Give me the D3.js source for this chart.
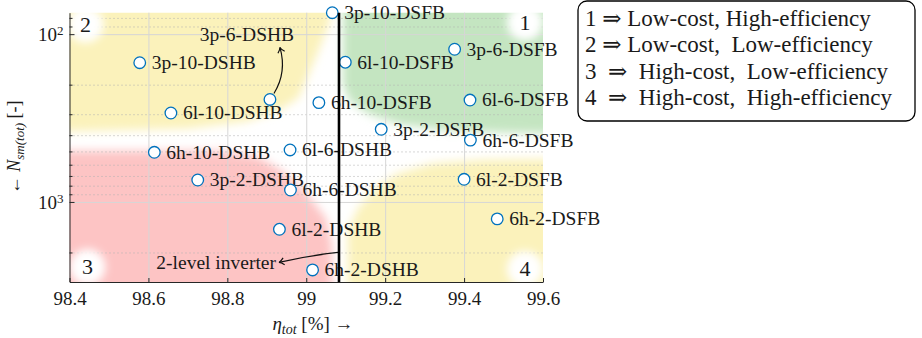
<!DOCTYPE html>
<html>
<head>
<meta charset="utf-8">
<script src="https://cdn.jsdelivr.net/npm/d3@7"></script>
<style>
body { margin: 0; background: #fff; }
text { font-family: "Liberation Serif", "DejaVu Serif", serif; fill: #1a1a1a; }
</style>
</head>
<body>
<svg id="chart" width="922" height="338"></svg>
<script>
/* ---- data ---- */
const designs = ["3p-10-DSFB", "3p-6-DSFB", "6l-10-DSFB", "3p-10-DSHB", "3p-6-DSHB", "6l-6-DSFB",
    "6h-10-DSFB", "6l-10-DSHB", "3p-2-DSFB", "6h-6-DSFB", "6l-6-DSHB", "6h-10-DSHB",
    "6l-2-DSFB", "3p-2-DSHB", "6h-6-DSHB", "6h-2-DSFB", "6l-2-DSHB", "6h-2-DSHB"];
const etaTot = [99.066, 99.376, 99.099, 98.578, 98.908, 99.415,
    99.032, 98.657, 99.190, 99.416, 98.959, 98.615,
    99.400, 98.725, 98.960, 99.484, 98.932, 99.016];
const nSm = [74.5, 123, 147, 148, 245, 247,
    256, 295, 369, 428, 490, 506,
    733, 740, 849, 1262, 1455, 2542];

const twoLevelEta = 99.083;

const xTicks = [98.4, 98.6, 98.8, 99, 99.2, 99.4, 99.6];
const yMajor = [100, 1000];
const yMinor = [80, 90, 200, 300, 400, 500, 600, 700, 800, 900, 2000];

const legendLines = ["1 \u21D2 Low-cost, High-efficiency",
    "2 \u21D2 Low-cost,  Low-efficiency",
    "3  \u21D2  High-cost,  Low-efficiency",
    "4  \u21D2  High-cost,  High-efficiency"];

/* rough outlines of the shaded zones, in (eta, N) units */
const zoneGreen = [[99.093, 45], [99.85, 45], [99.85, 400], [99.5, 385], [99.35, 372], [99.24, 345],
    [99.16, 300], [99.11, 250], [99.093, 200]];
const zoneYellowTop = [[98.2, 45], [99.07, 45], [99.06, 85], [99.02, 145], [98.98, 240],
    [98.93, 285], [98.85, 330], [98.7, 365], [98.2, 390]];
const zoneRed = [[98.2, 495], [98.78, 495], [98.88, 540], [98.935, 644], [99.0, 880],
    [99.05, 1250], [99.065, 1800], [99.065, 4500], [98.2, 4500]];
const zoneYellowBottom = [[99.105, 4500], [99.105, 1500], [99.13, 1100], [99.17, 850], [99.23, 680],
    [99.32, 590], [99.45, 560], [99.85, 550], [99.85, 4500]];
const zoneColors = ["#c4e5c1", "#fbf2bb", "#fdc4c4", "#fbf2bb"];

/* ---- layout ---- */
const margin = { top: 12.7, right: 379, bottom: 56, left: 69.5 };
const width = 922 - margin.left - margin.right;
const height = 338 - margin.top - margin.bottom;

const svg = d3.select("#chart");
const defs = svg.append("defs");

defs.append("filter").attr("id", "blur").attr("x", "-50%").attr("y", "-50%").attr("width", "200%").attr("height", "200%")
    .append("feGaussianBlur").attr("stdDeviation", 5);
defs.append("filter").attr("id", "blurSmall").attr("x", "-50%").attr("y", "-50%").attr("width", "200%").attr("height", "200%")
    .append("feGaussianBlur").attr("stdDeviation", 4);
defs.append("clipPath").attr("id", "plotClip")
    .append("rect").attr("width", width).attr("height", height);
defs.append("marker")
    .attr("id", "arrow")
    .attr("viewBox", "-6 -5 8 10")
    .attr("markerWidth", 8).attr("markerHeight", 10)
    .attr("markerUnits", "userSpaceOnUse")
    .attr("orient", "auto")
    .append("path")
    .attr("d", "M-5,-3.5 Q-2,-0.5 0,0 Q-2,0.5 -5,3.5")
    .attr("fill", "none")
    .attr("stroke", "#111")
    .attr("stroke-width", 1.2);

const g = svg.append("g").attr("transform", "translate(" + margin.left + "," + margin.top + ")");

const x = d3.scaleLinear().domain([98.4, 99.6]).range([0, width]);
const y = d3.scaleLog().domain([74.5, 3000]).range([0, height]);

/* shaded zones */
const zoneLine = d3.line()
    .x(d => x(d[0]))
    .y(d => y(d[1]))
    .curve(d3.curveLinearClosed);

g.append("g")
    .attr("clip-path", "url(#plotClip)")
    .append("g")
    .attr("filter", "url(#blur)")
    .selectAll("path")
    .data([zoneGreen, zoneYellowTop, zoneRed, zoneYellowBottom])
    .enter()
    .append("path")
    .attr("d", zoneLine)
    .attr("fill", (d, i) => zoneColors[i]);

/* grid */
g.append("g")
    .attr("class", "gridMinor")
    .call(d3.axisLeft(y).tickValues(yMinor).tickSize(-width).tickFormat(""))
    .call(a => a.select(".domain").remove())
    .call(a => a.selectAll(".tick line").attr("stroke", "#b0b0b0").attr("stroke-dasharray", "1,3"));

g.append("g")
    .attr("class", "gridMajor")
    .call(d3.axisLeft(y).tickValues(yMajor).tickSize(-width).tickFormat(""))
    .call(a => a.select(".domain").remove())
    .call(a => a.selectAll(".tick line").attr("stroke", "#d6d6d6"));

g.append("g")
    .attr("class", "gridX")
    .attr("transform", "translate(0," + height + ")")
    .call(d3.axisBottom(x).tickValues(xTicks.slice(1, -1)).tickSize(-height).tickFormat(""))
    .call(a => a.select(".domain").remove())
    .call(a => a.selectAll(".tick line").attr("stroke", "#d6d6d6"));

/* corner badges */
const badges = [
    { n: "2", cx: 16, cy: 12 },
    { n: "1", cx: width - 18, cy: 10 },
    { n: "3", cx: 18, cy: height - 15 },
    { n: "4", cx: width - 18, cy: height - 13 }
];
g.append("g")
    .attr("filter", "url(#blurSmall)")
    .selectAll("circle")
    .data(badges)
    .enter()
    .append("circle")
    .attr("cx", d => d.cx)
    .attr("cy", d => d.cy)
    .attr("r", 18)
    .attr("fill", "#fff");

g.selectAll(".badge")
    .data(badges)
    .enter()
    .append("text")
    .attr("class", "badge")
    .attr("x", d => d.cx)
    .attr("y", d => d.cy)
    .attr("dy", "0.34em")
    .attr("text-anchor", "middle")
    .style("font-size", "22px")
    .text(d => d.n);

/* axes */
const xAxis = g.append("g")
    .attr("transform", "translate(0," + height + ")")
    .call(d3.axisBottom(x).tickValues(xTicks).tickSizeInner(-4).tickSizeOuter(0).tickPadding(10)
        .tickFormat(d => String(+d.toFixed(1))))
    .attr("font-family", null);
xAxis.selectAll("text").style("font-size", "19px").attr("fill", "#262626");
xAxis.selectAll("line, path").attr("stroke", "#262626");

const yAxis = g.append("g")
    .call(d3.axisLeft(y).tickValues(yMajor).tickSizeInner(-5).tickSizeOuter(0).tickPadding(6).tickFormat(""))
    .attr("font-family", null);
yAxis.selectAll("line, path").attr("stroke", "#262626");
yAxis.selectAll(".tick text")
    .attr("dy", "0.32em")
    .style("font-size", "19px")
    .attr("fill", "#262626")
    .each(function (d) {
        const t = d3.select(this);
        t.append("tspan").text("10");
        t.append("tspan").attr("dy", "-0.45em").style("font-size", "13px").text(Math.round(Math.log10(d)));
    });

g.append("g")
    .call(d3.axisLeft(y).tickValues(yMinor).tickSizeInner(-3).tickSizeOuter(0).tickFormat(""))
    .call(a => a.select(".domain").remove())
    .call(a => a.selectAll("line").attr("stroke", "#262626"));

/* axis labels */
const xLabel = svg.append("text")
    .attr("x", 313)
    .attr("y", 330)
    .attr("text-anchor", "middle")
    .style("font-size", "19px");
xLabel.append("tspan").style("font-style", "italic").text("\u03B7");
xLabel.append("tspan").attr("dy", 4).style("font-style", "italic").style("font-size", "14px").text("tot");
xLabel.append("tspan").attr("dy", -4).text(" [%] \u2192");

const yLabel = svg.append("text")
    .attr("transform", "translate(20," + (margin.top + height / 2) + ") rotate(-90)")
    .attr("text-anchor", "middle")
    .style("font-size", "18px");
yLabel.append("tspan").text("\u2190  ");
yLabel.append("tspan").style("font-style", "italic").text("N");
yLabel.append("tspan").attr("dy", 4).style("font-style", "italic").style("font-size", "13px").text("sm(tot)");
yLabel.append("tspan").attr("dy", -4).text(" [-]");

/* 2-level inverter annotation */
const invY = y(2000);
g.append("path")
    .attr("d", "M" + (x(twoLevelEta) - 1) + "," + invY +
        " Q" + (x(twoLevelEta) - 30) + "," + (invY + 3) + " " + (x(twoLevelEta) - 60) + "," + (invY + 10))
    .attr("fill", "none")
    .attr("stroke", "#111")
    .attr("stroke-width", 1.2)
    .attr("marker-end", "url(#arrow)");
g.append("text")
    .attr("x", x(twoLevelEta) - 63)
    .attr("y", invY + 10)
    .attr("dy", "0.33em")
    .attr("text-anchor", "end")
    .style("font-size", "19.5px")
    .text("2-level inverter");

/* annotated point 3p-6-DSHB */
const annIdx = designs.indexOf("3p-6-DSHB");
const ax = x(etaTot[annIdx]), ay = y(nSm[annIdx]);
g.append("path")
    .attr("d", "M" + (ax + 4) + "," + (ay - 6) + " C" + (ax + 14) + "," + (ay - 22) + " " + (ax + 14) + "," + (ay - 38) + " " + (ax + 10) + "," + (ay - 52))
    .attr("fill", "none")
    .attr("stroke", "#111")
    .attr("stroke-width", 1.2)
    .attr("marker-end", "url(#arrow)");
g.append("text")
    .attr("x", ax - 23)
    .attr("y", ay - 65)
    .attr("dy", "0.33em")
    .attr("text-anchor", "middle")
    .style("font-size", "19.5px")
    .text("3p-6-DSHB");

/* point labels, then the markers on top */
g.selectAll(".ptLabel")
    .data(designs)
    .enter()
    .filter(d => d !== "3p-6-DSHB")
    .append("text")
    .attr("class", "ptLabel")
    .attr("x", d => x(etaTot[designs.indexOf(d)]) + 12)
    .attr("y", d => y(nSm[designs.indexOf(d)]))
    .attr("dy", "0.33em")
    .style("font-size", "19.5px")
    .text(d => d);

g.selectAll(".pt")
    .data(designs)
    .enter()
    .append("circle")
    .attr("class", "pt")
    .attr("cx", (d, i) => x(etaTot[i]))
    .attr("cy", (d, i) => y(nSm[i]))
    .attr("r", 5.8)
    .attr("fill", "#fff")
    .attr("stroke", "#0072BD")
    .attr("stroke-width", 1.3);

/* 2-level inverter reference line, drawn over everything */
g.append("line")
    .attr("x1", x(twoLevelEta)).attr("x2", x(twoLevelEta))
    .attr("y1", 0).attr("y2", height)
    .attr("stroke", "#000")
    .attr("stroke-width", 2.6);

/* legend box */
const legend = svg.append("g").attr("transform", "translate(578,1)");
legend.append("rect")
    .attr("width", 337)
    .attr("height", 120)
    .attr("rx", 9)
    .attr("fill", "#fff")
    .attr("stroke", "#000")
    .attr("stroke-width", 1.3);
legend.selectAll("text")
    .data(legendLines)
    .enter()
    .append("text")
    .attr("x", 7)
    .attr("y", (d, i) => 17 + i * 26.5)
    .attr("dy", "0.33em")
    .style("font-size", "23px")
    .style("white-space", "pre")
    .text(d => d);
</script>
</body>
</html>
